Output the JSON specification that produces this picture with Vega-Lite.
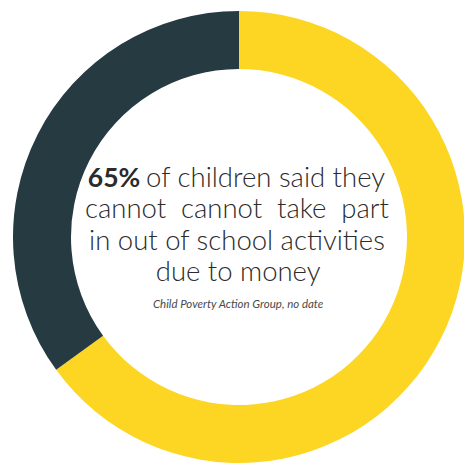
{
  "$schema": "https://vega.github.io/schema/vega-lite/v6.json",
  "width": 464,
  "height": 474,
  "autosize": {"type": "fit", "contains": "padding"},
  "padding": {"left": 14, "right": 0, "top": 0, "bottom": 0},
  "background": "white",
  "config": {"view": {"stroke": null}},
  "layer": [
    {
      "data": {"values": [
        {"group": "Cannot take part", "value": 65, "order": 1},
        {"group": "Other", "value": 35, "order": 2}
      ]},
      "mark": {"type": "arc", "radius": 226, "radius2": 168},
      "encoding": {
        "theta": {"field": "value", "type": "quantitative", "stack": true},
        "order": {"field": "order", "type": "quantitative"},
        "color": {"field": "group", "type": "nominal", "legend": null,
          "scale": {"domain": ["Cannot take part", "Other"], "range": ["#FCD622", "#263A42"]}}
      }
    },
    {
      "data": {"values": [
        {"text": "65%", "col": -0.672, "row": 1, "align": "left", "kind": "bold"},
        {"text": "of children said they", "col": 0.649, "row": 1, "align": "right", "kind": "main"},
        {"text": "cannot\u00a0\u00a0cannot\u00a0\u00a0take\u00a0\u00a0part", "col": -0.009, "row": 2, "align": "center", "kind": "main"},
        {"text": "in out of school activities", "col": -0.009, "row": 3, "align": "center", "kind": "main"},
        {"text": "due to money", "col": -0.004, "row": 4, "align": "center", "kind": "main"}
      ]},
      "layer": [
        {
          "transform": [{"filter": "datum.kind === 'bold'"}],
          "mark": {"type": "text", "font": "Lato", "fontSize": 26.5, "fontWeight": "bold", "color": "#2b2b2b", "align": "left", "baseline": "middle"},
          "encoding": {
            "x": {"field": "col", "type": "quantitative", "scale": {"domain": [-1, 1]}, "axis": null},
            "y": {"field": "row", "type": "quantitative", "scale": {"domain": [-4.713, 10.417], "reverse": true}, "axis": null},
            "text": {"field": "text"}
          }
        },
        {
          "transform": [{"filter": "datum.kind === 'main' && datum.align === 'right'"}],
          "mark": {"type": "text", "font": "Lato", "fontSize": 27.5, "fontWeight": 300, "color": "#2b2b2b", "align": "right", "baseline": "middle"},
          "encoding": {
            "x": {"field": "col", "type": "quantitative", "scale": {"domain": [-1, 1]}, "axis": null},
            "y": {"field": "row", "type": "quantitative", "scale": {"domain": [-4.713, 10.417], "reverse": true}, "axis": null},
            "text": {"field": "text"}
          }
        },
        {
          "transform": [{"filter": "datum.kind === 'main' && datum.align === 'center'"}],
          "mark": {"type": "text", "font": "Lato", "fontSize": 27.5, "fontWeight": 300, "color": "#2b2b2b", "align": "center", "baseline": "middle"},
          "encoding": {
            "x": {"field": "col", "type": "quantitative", "scale": {"domain": [-1, 1]}, "axis": null},
            "y": {"field": "row", "type": "quantitative", "scale": {"domain": [-4.713, 10.417], "reverse": true}, "axis": null},
            "text": {"field": "text"}
          }
        }
      ]
    },
    {
      "data": {"values": [
        {"text": "Child Poverty Action Group, no date", "col": -0.004, "row": 5.02}
      ]},
      "mark": {"type": "text", "font": "Lato", "fontSize": 11.5, "fontStyle": "italic", "fontWeight": "normal", "color": "#4a4a4a", "align": "center", "baseline": "middle"},
      "encoding": {
        "x": {"field": "col", "type": "quantitative", "scale": {"domain": [-1, 1]}, "axis": null},
        "y": {"field": "row", "type": "quantitative", "scale": {"domain": [-4.713, 10.417], "reverse": true}, "axis": null},
        "text": {"field": "text"}
      }
    }
  ]
}
